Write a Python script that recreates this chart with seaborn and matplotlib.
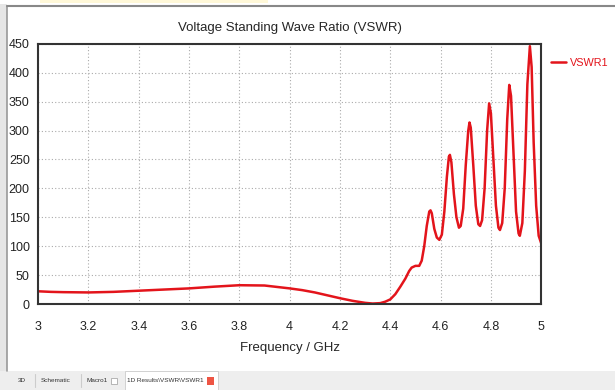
import matplotlib
matplotlib.use("Agg")
import matplotlib.pyplot as plt
import seaborn as sns
import pandas as pd
from matplotlib.patches import Rectangle

# values
freq = [3.00, 3.05, 3.10, 3.20, 3.30, 3.40, 3.50, 3.60, 3.70, 3.80, 3.90,
        4.00, 4.05, 4.10, 4.15, 4.20, 4.25, 4.30, 4.33, 4.36, 4.38, 4.40,
        4.42, 4.44, 4.46, 4.475, 4.485, 4.50, 4.515, 4.525, 4.535, 4.545,
        4.555, 4.56, 4.565, 4.575, 4.585, 4.595, 4.605, 4.615, 4.625, 4.633,
        4.637, 4.643, 4.653, 4.663, 4.673, 4.68, 4.69, 4.70, 4.71, 4.715,
        4.72, 4.73, 4.74, 4.75, 4.757, 4.765, 4.775, 4.785, 4.793, 4.80,
        4.81, 4.82, 4.83, 4.836, 4.845, 4.855, 4.865, 4.873, 4.88, 4.89,
        4.90, 4.91, 4.915, 4.925, 4.935, 4.945, 4.955, 4.962, 4.97, 4.98,
        4.99, 5.00]
vswr = [22, 21, 20.5, 20, 21, 23, 25, 27, 30, 32.5, 32,
        27, 24, 20, 15, 10, 5.5, 2, 0.8, 1.5, 4, 8,
        17, 30, 44, 57, 63, 66, 66, 75, 100, 135,
        160, 162, 157, 130, 115, 111, 120, 160, 220, 255,
        258, 245, 190, 150, 132, 135, 165, 240, 300, 314,
        305, 240, 170, 138, 135, 145, 200, 300, 347, 330,
        250, 170, 132, 128, 140, 200, 320, 379, 360, 260,
        160, 122, 118, 140, 230, 380, 446, 410, 280, 170,
        118, 105]
xticks = [3, 3.2, 3.4, 3.6, 3.8, 4, 4.2, 4.4, 4.6, 4.8, 5]
xticklabels = ["3", "3.2", "3.4", "3.6", "3.8", "4", "4.2", "4.4", "4.6", "4.8", "5"]
yticks = [0, 50, 100, 150, 200, 250, 300, 350, 400, 450]
tabs = ["3D", "Schematic", "Macro1", "1D Results\\VSWR\\VSWR1"]

df = pd.DataFrame({"Frequency": freq, "VSWR1": vswr})

sns.set_style("white")
plt.rcParams["font.family"] = ["Liberation Sans", "DejaVu Sans"]

fig = plt.figure(figsize=(6.15, 3.9), dpi=100)
ax = fig.add_axes([0.062, 0.2205, 0.818, 0.667])

sns.lineplot(data=df, x="Frequency", y="VSWR1", color="#e3141b", lw=1.8,
             ax=ax, label="VSWR1")

ax.set_xlim(3, 5)
ax.set_ylim(0, 450)
ax.set_xticks(xticks)
ax.set_xticklabels(xticklabels)
ax.set_yticks(yticks)
ax.tick_params(axis="both", direction="out", length=3, width=1, labelsize=9,
               colors="#222222", pad=3)
ax.tick_params(axis="x", pad=9)
ax.grid(True, color="#aaaaaa", linestyle=(0, (1, 2)), linewidth=0.8)
for s in ax.spines.values():
    s.set_color("#333333")
    s.set_linewidth(1.5)

ax.set_xlabel("Frequency / GHz", fontsize=9.5, labelpad=7)
ax.set_ylabel("")
ax.set_title("Voltage Standing Wave Ratio (VSWR)", fontsize=9.5, pad=9)

leg = ax.legend(loc="center left", bbox_to_anchor=(1.02, 0.927), frameon=False,
                fontsize=7.8, handlelength=1.4, handletextpad=0.35,
                borderaxespad=0.0, borderpad=0.0)
for t in leg.get_texts():
    t.set_color("#e3141b")

# screenshot window frame
fig.add_artist(Rectangle((0.0, 0.0), 1.0, 0.05, transform=fig.transFigure,
                         facecolor="#eeeeee", edgecolor="none", zorder=0))
fig.add_artist(Rectangle((0.203, 0.0), 0.152, 0.05, transform=fig.transFigure,
                         facecolor="white", edgecolor="#cccccc", lw=0.6, zorder=1))
fig.add_artist(Rectangle((0.0, 0.05), 0.011, 0.94, transform=fig.transFigure,
                         facecolor="#e6e6e6", edgecolor="none", zorder=0))
fig.add_artist(plt.Line2D([0.011, 0.011], [0.05, 0.985], transform=fig.transFigure,
                          color="#999999", lw=1.2))
fig.add_artist(plt.Line2D([0.011, 1.0], [0.985, 0.985], transform=fig.transFigure,
                          color="#888888", lw=1.5))
fig.add_artist(Rectangle((0.065, 0.992), 0.37, 0.008, transform=fig.transFigure,
                         facecolor="#fff8d8", edgecolor="none", zorder=0))
tab_x = [0.029, 0.066, 0.140, 0.207]
for name, xpos in zip(tabs, tab_x):
    fig.text(xpos, 0.024, name, fontsize=4.6, color="#333333", va="center", zorder=3)
for sep in [0.057, 0.131]:
    fig.add_artist(plt.Line2D([sep, sep], [0.008, 0.04], transform=fig.transFigure,
                              color="#cccccc", lw=0.8))
fig.add_artist(Rectangle((0.181, 0.015), 0.009, 0.017, transform=fig.transFigure,
                         facecolor="white", edgecolor="#aaaaaa", lw=0.6, zorder=2))
fig.add_artist(Rectangle((0.337, 0.013), 0.011, 0.021, transform=fig.transFigure,
                         facecolor="#ee5544", edgecolor="none", zorder=2))

fig.savefig("out.png", dpi=100)
